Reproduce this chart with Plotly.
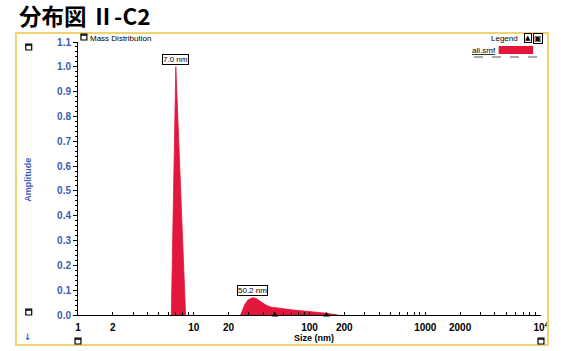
import math
import plotly.graph_objects as go

# Size distribution (mass weighted), two populations
peak1_size = [6.4, 7.0, 8.5]
peak1_amp = [0.0, 1.0, 0.0]

peak2_size = [25.4, 27.5, 29.3, 32.3, 34.4, 37.8, 42.0, 46.2, 55.0, 64.0, 73.0, 90.0, 108.0, 125.0, 140.0, 176.0]
peak2_amp = [0.0, 0.040, 0.060, 0.070, 0.067, 0.055, 0.040, 0.032, 0.027, 0.023, 0.020, 0.016, 0.013, 0.010, 0.007, 0.0]

peak_labels = ["7.0 nm", "50.2 nm"]
peak_label_pos = [7.0, 32.3]
marker_sizes = [50.2, 140.0]

x_tick_vals = [1, 2, 10, 20, 100, 200, 1000, 2000, 10000]
x_tick_text = ["1", "2", "10", "20", "100", "200", "1000", "2000", "10<sup>4</sup>"]

RED = "#e3163c"
BLUE = "#3a5cae"
W, H = 561, 351
L, R, T, B = 78, 13, 42, 36
PW, PH = W - L - R, H - T - B


def px(x):
    return (x - L) / PW


def py(y):
    return (H - B - y) / PH


fig = go.Figure()
for xs, ys in [(peak1_size, peak1_amp), (peak2_size, peak2_amp)]:
    fig.add_trace(go.Scatter(x=xs, y=ys, mode="lines", fill="tozeroy",
                             line=dict(color=RED, width=0.8), fillcolor=RED,
                             showlegend=False, hoverinfo="skip"))

fig.add_trace(go.Scatter(x=marker_sizes, y=[0] * len(marker_sizes), mode="markers",
                         marker=dict(symbol="triangle-up", size=6, color="black"),
                         cliponaxis=False, showlegend=False, hoverinfo="skip"))

# all decade tick marks, labels only on selected values
all_ticks = []
all_text = []
for d in range(4):
    for m in range(1, 10):
        v = m * 10 ** d
        all_ticks.append(v)
        all_text.append(x_tick_text[x_tick_vals.index(v)] if v in x_tick_vals else "")
all_ticks.append(10000)
all_text.append(x_tick_text[-1])

fig.update_xaxes(type="log", range=[0, 4], tickvals=all_ticks, ticktext=all_text,
                 ticks="inside", ticklen=3, tickcolor="black", showline=True,
                 linecolor="black", linewidth=1, showgrid=False, zeroline=False,
                 ticklabelstandoff=3,
                 tickfont=dict(family="Liberation Sans", size=10, color="black", weight="bold"))
fig.update_yaxes(range=[0, 1.1], dtick=0.1, tickformat=".1f", ticks="outside",
                 ticklen=4, tickcolor="black", showline=True, linecolor="black",
                 linewidth=1, showgrid=False, zeroline=False,
                 minor=dict(dtick=0.02, ticks="outside", ticklen=2, tickcolor="black"),
                 tickfont=dict(family="Liberation Sans", size=10, color=BLUE, weight="bold"))

ann = []
for lab, pos, yy in zip(peak_labels, peak_label_pos, [1.03, 0.1]):
    ann.append(dict(x=math.log10(pos), y=yy, xref="x", yref="y", text=lab,
                    showarrow=False, bgcolor="white", bordercolor="black",
                    borderwidth=1, borderpad=0, xanchor="center", yanchor="middle",
                    font=dict(family="Liberation Sans", size=8, color="black")))


def note(x, y, text, size=8, color="black", family="Liberation Sans", xanchor="center", **kw):
    return dict(x=px(x), y=py(y), xref="paper", yref="paper", text=text,
                showarrow=False, xanchor=xanchor, yanchor="middle",
                font=dict(family=family, size=size, color=color), **kw)


ann += [
    note(27, 180, "<b>Amplitude</b>", size=9, color=BLUE, textangle=-90),
    note(318, 338, "<b>Size (nm)</b>", size=9),
    note(88, 38, "Mass Distribution", xanchor="left"),
    note(527, 38, "Legend", xanchor="right"),
    note(535, 38, "▲", size=7, family="DejaVu Sans",
         borderwidth=1, bordercolor="black", borderpad=0),
    note(545, 38, "▣", size=8, family="DejaVu Sans",
         borderwidth=1, bordercolor="black", borderpad=0),
    note(504, 50, "<u>ali.smf</u>", xanchor="right"),
    note(27, 337, "<b>↓</b>", size=9, color=BLUE, family="DejaVu Sans"),
]

shapes = [
    # panel frame
    dict(type="rect", xref="paper", yref="paper", x0=px(15), x1=px(555),
         y0=py(345), y1=py(33), line=dict(color="#f0d36e", width=2)),
    # legend swatch
    dict(type="rect", xref="paper", yref="paper", x0=px(505), x1=px(540),
         y0=py(54), y1=py(46), fillcolor=RED, line=dict(width=0)),
    dict(type="line", xref="paper", yref="paper", x0=px(480), x1=px(548),
         y0=py(57), y1=py(57), line=dict(color="#555555", width=1, dash="dash")),
]
# small control icons
for cx, cy in [(28, 47), (28, 312), (78, 341), (548, 341), (84, 37)]:
    shapes.append(dict(type="rect", xref="paper", yref="paper",
                       x0=px(cx - 3), x1=px(cx + 3), y0=py(cy + 3), y1=py(cy - 3),
                       fillcolor="white", line=dict(color="black", width=1.2)))
    shapes.append(dict(type="line", xref="paper", yref="paper",
                       x0=px(cx - 3), x1=px(cx + 3), y0=py(cy - 2), y1=py(cy - 2),
                       line=dict(color="black", width=1.5)))

fig.update_layout(
    width=W, height=H, margin=dict(l=L, r=R, t=T, b=B),
    paper_bgcolor="white", plot_bgcolor="white",
    title=dict(text="<b>分布図 Ⅱ-C2</b>", xref="container", x=19 / W, xanchor="left",
               y=1 - 17 / H, yanchor="middle",
               font=dict(family="Noto Sans CJK JP", size=22.5, color="black")),
    annotations=ann, shapes=shapes, showlegend=False,
)

fig.write_html("out.html")
